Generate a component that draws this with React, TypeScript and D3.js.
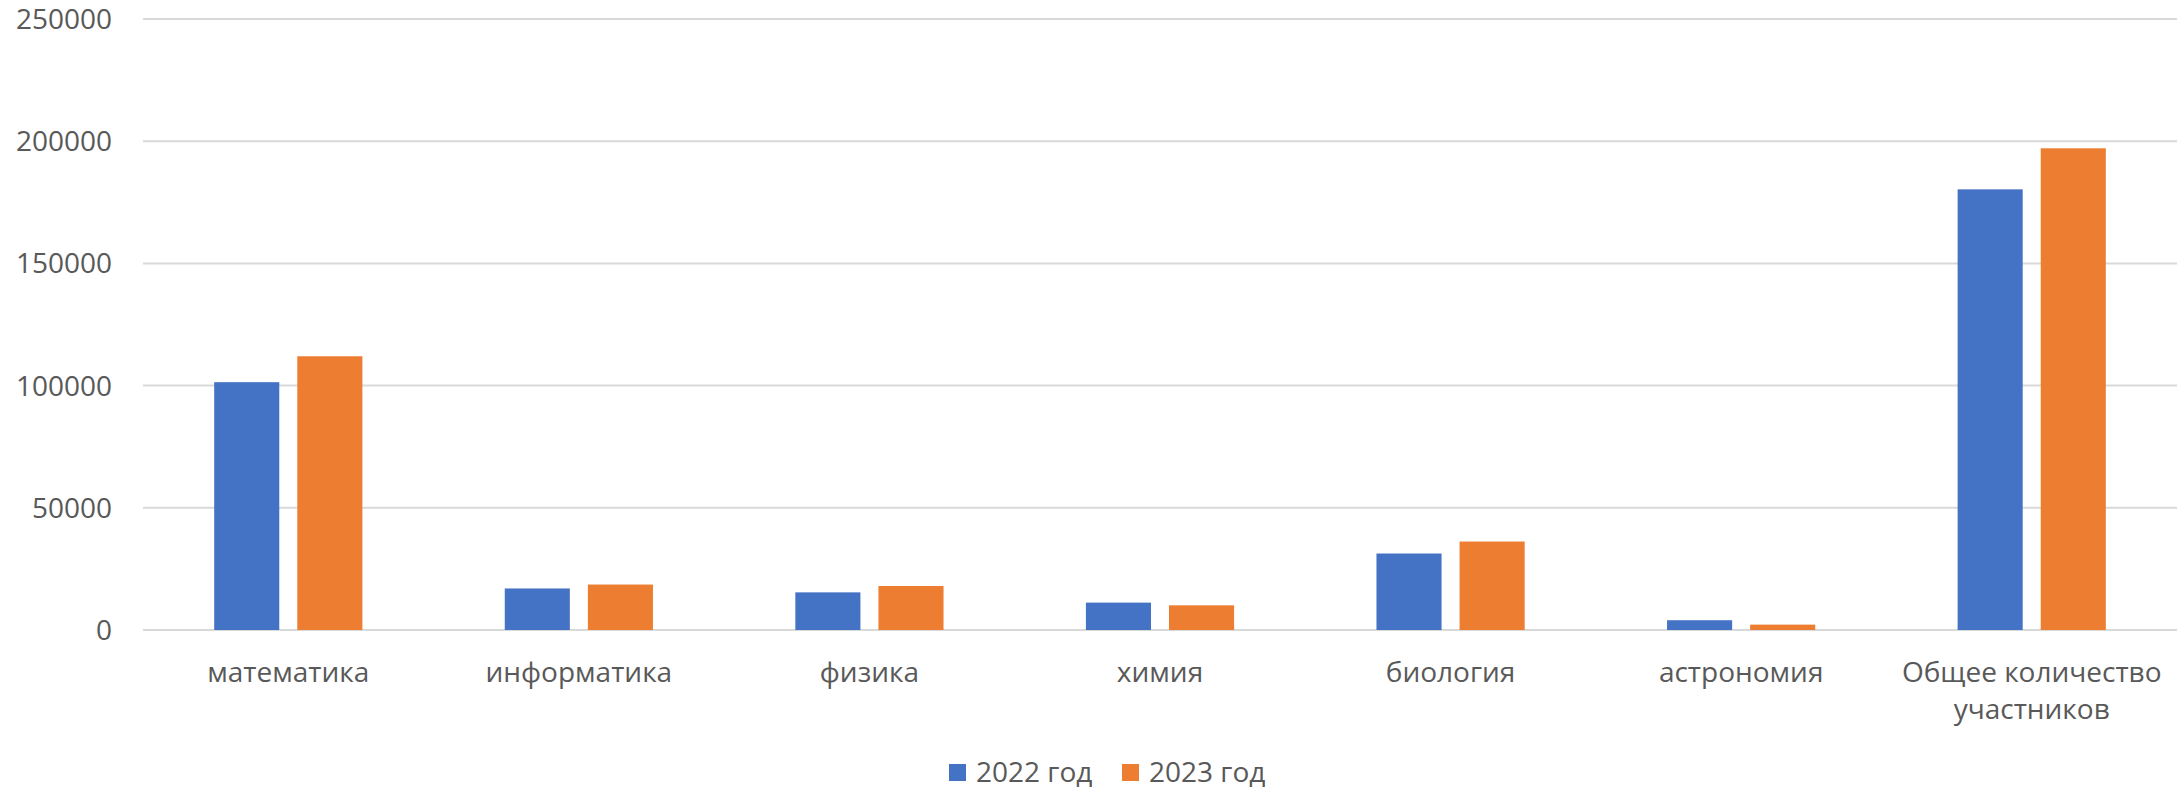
import * as d3 from 'd3';

const categories = [
  ['математика'],
  ['информатика'],
  ['физика'],
  ['химия'],
  ['биология'],
  ['астрономия'],
  ['Общее количество', 'участников'],
];
const seriesNames = ['2022 год', '2023 год'];
const values2022 = [101400, 17000, 15400, 11200, 31300, 4000, 180300];
const values2023 = [112000, 18600, 18000, 10100, 36200, 2200, 197100];
const yTicks = [0, 50000, 100000, 150000, 200000, 250000];

const colors = ['#4472C4', '#ED7D31'];
const width = 2183;
const height = 789;
const margin = { top: 19, right: 6, bottom: 159, left: 143 };
const font = '"Open Sans", "Noto Sans", sans-serif';
const textColor = '#595959';

export default function App(): JSX.Element {
  const x = d3.scaleBand<number>()
    .domain(categories.map((_, i) => i))
    .range([margin.left, width - margin.right]);

  const y = d3.scaleLinear()
    .domain([0, 250000])
    .range([height - margin.bottom, margin.top]);

  const bw = x.bandwidth();
  const barW = bw * 0.224;
  const gap = bw * 0.062;

  const series = [values2022, values2023];

  return (
    <div style={{ position: 'absolute', left: 0, top: 0 }}>
      <svg width={width} height={height} style={{ display: 'block' }}>
        <rect width={width} height={height} fill="#ffffff" />
        <g className="grid">
          {yTicks.map(t => (
            <g key={t}>
              <line
                x1={margin.left}
                x2={width - margin.right}
                y1={y(t)}
                y2={y(t)}
                stroke="#d9d9d9"
                strokeWidth={2}
              />
              <text
                x={112}
                y={y(t)}
                dy="0.36em"
                textAnchor="end"
                fontFamily={font}
                fontSize={28}
                fill={textColor}
              >
                {t}
              </text>
            </g>
          ))}
        </g>

        <g className="bars">
          {categories.map((_, i) => {
            const cx = (x(i) as number) + bw / 2;
            return series.map((vals, s) => {
              const left = s === 0 ? cx - gap / 2 - barW : cx + gap / 2;
              return (
                <rect
                  key={`${i}-${s}`}
                  x={left}
                  y={y(vals[i])}
                  width={barW}
                  height={y(0) - y(vals[i])}
                  fill={colors[s]}
                />
              );
            });
          })}
        </g>

        <g className="x-axis">
          {categories.map((lines, i) => (
            <text
              key={i}
              x={(x(i) as number) + bw / 2}
              y={682}
              textAnchor="middle"
              fontFamily={font}
              fontSize={28}
              fill={textColor}
            >
              {lines.map((l, k) => (
                <tspan key={k} x={(x(i) as number) + bw / 2} dy={k === 0 ? 0 : 37}>
                  {l}
                </tspan>
              ))}
            </text>
          ))}
        </g>

        <g className="legend">
          {seriesNames.map((name, s) => {
            const lx = s === 0 ? 949 : 1122;
            return (
              <g key={name}>
                <rect x={lx} y={764} width={17} height={17} fill={colors[s]} />
                <text
                  x={lx + 27}
                  y={782}
                  fontFamily={font}
                  fontSize={28}
                  fill={textColor}
                >
                  {name}
                </text>
              </g>
            );
          })}
        </g>
      </svg>
    </div>
  );
}
